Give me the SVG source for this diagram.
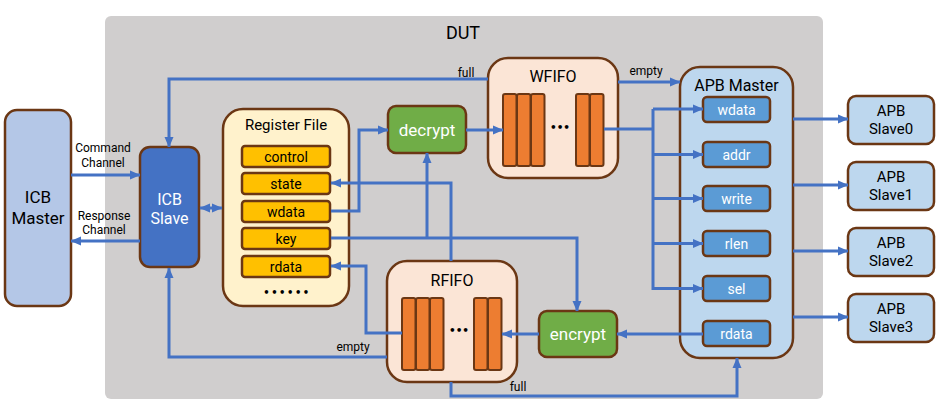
<svg xmlns="http://www.w3.org/2000/svg" width="939" height="405" viewBox="0 0 939 405">
<style>
text{font-family:Roboto,"Noto Sans","DejaVu Sans",sans-serif;text-anchor:middle;dominant-baseline:central;fill:#000}
.dots{font-family:"DejaVu Sans",sans-serif;font-weight:bold}
.wt{fill:#fff}
.bx{stroke:#6b3714;stroke-width:2.5}
.ln{fill:none;stroke:#4472c4;stroke-width:3}
.arr{marker-end:url(#ah)}
.cell{fill:#ed7d31;stroke:#6b3714;stroke-width:2}
.reg{fill:#ffc000;stroke:#6b3714;stroke-width:2.5}
.sub{fill:#5b9bd5;stroke:#6b3714;stroke-width:2.5}
.slv{fill:#bdd7ee;stroke:#6b3714;stroke-width:2.5}
</style>
<defs>
<marker id="ah" markerUnits="userSpaceOnUse" markerWidth="11" markerHeight="10" refX="10" refY="5" orient="auto-start-reverse" viewBox="0 0 11 10">
<path d="M0,0.5 L10.5,5 L0,9.5 z" fill="#4472c4"/>
</marker>
</defs>
<rect width="939" height="405" fill="#fff"/>
<g id="dut">
<rect x="105" y="16" width="718" height="383" rx="6" fill="#d0cece"/>
<text x="463" y="32" font-size="18">DUT</text>
</g>
<g id="icb-master">
<rect class="bx" x="5" y="110" width="66" height="196" rx="12" fill="#b4c7e7"/>
<text x="38" y="197" font-size="17">ICB</text>
<text x="38" y="218" font-size="17">Master</text>
</g>
<g id="icb-slave">
<rect class="bx" x="140" y="147" width="59" height="120" rx="10" fill="#4472c4"/>
<text class="wt" x="169.5" y="199" font-size="16">ICB</text>
<text class="wt" x="169.5" y="218.5" font-size="16">Slave</text>
</g>
<g id="register-file">
<rect class="bx" x="223" y="109" width="126" height="197" rx="20" fill="#fff2cc"/>
<text x="286" y="125" font-size="15">Register File</text>
<rect class="reg" x="242" y="146" width="88" height="21" rx="3"/>
<text x="286" y="156.5" font-size="14">control</text>
<rect class="reg" x="242" y="173" width="88" height="21" rx="3"/>
<text x="286" y="183.5" font-size="14">state</text>
<rect class="reg" x="242" y="201" width="88" height="21" rx="3"/>
<text x="286" y="211.5" font-size="14">wdata</text>
<rect class="reg" x="242" y="228" width="88" height="21" rx="3"/>
<text x="286" y="238.5" font-size="14">key</text>
<rect class="reg" x="242" y="256" width="88" height="21" rx="3"/>
<text x="286" y="266.5" font-size="14">rdata</text>
<text class="dots" x="287" y="292" font-size="10" letter-spacing="1.5">••••••</text>
</g>
<g id="decrypt">
<rect class="bx" x="388" y="106" width="78" height="47" rx="8" fill="#70ad47"/>
<text class="wt" x="427" y="129.5" font-size="17">decrypt</text>
</g>
<g id="wfifo">
<rect class="bx" x="488" y="58" width="130" height="120" rx="20" fill="#fbe5d6"/>
<text x="553" y="76" font-size="16">WFIFO</text>
<rect class="cell" x="503" y="94" width="13.5" height="72" rx="2"/>
<rect class="cell" x="517" y="94" width="13.5" height="72" rx="2"/>
<rect class="cell" x="531" y="94" width="13.5" height="72" rx="2"/>
<rect class="cell" x="576" y="94" width="13.5" height="72" rx="2"/>
<rect class="cell" x="590" y="94" width="13.5" height="72" rx="2"/>
<text class="dots" x="560" y="127" font-size="10.5">•••</text>
</g>
<g id="rfifo">
<rect class="bx" x="387" y="261" width="130" height="121" rx="20" fill="#fbe5d6"/>
<text x="452" y="280" font-size="16">RFIFO</text>
<rect class="cell" x="402" y="298" width="13.5" height="72" rx="2"/>
<rect class="cell" x="416" y="298" width="13.5" height="72" rx="2"/>
<rect class="cell" x="430" y="298" width="13.5" height="72" rx="2"/>
<rect class="cell" x="474" y="298" width="13.5" height="72" rx="2"/>
<rect class="cell" x="488" y="298" width="13.5" height="72" rx="2"/>
<text class="dots" x="459" y="330" font-size="10.5">•••</text>
</g>
<g id="encrypt">
<rect class="bx" x="539" y="311" width="78" height="46" rx="8" fill="#70ad47"/>
<text class="wt" x="578" y="334" font-size="17">encrypt</text>
</g>
<g id="apb-master">
<rect class="bx" x="680" y="67" width="113" height="291" rx="20" fill="#bdd7ee"/>
<text x="736.5" y="85" font-size="16">APB Master</text>
<rect class="sub" x="703" y="97" width="67" height="25" rx="4"/>
<text class="wt" x="736.5" y="109.5" font-size="14">wdata</text>
<rect class="sub" x="703" y="142" width="67" height="25" rx="4"/>
<text class="wt" x="736.5" y="154.5" font-size="14">addr</text>
<rect class="sub" x="703" y="186" width="67" height="25" rx="4"/>
<text class="wt" x="736.5" y="198.5" font-size="14">write</text>
<rect class="sub" x="703" y="231" width="67" height="25" rx="4"/>
<text class="wt" x="736.5" y="243.5" font-size="14">rlen</text>
<rect class="sub" x="703" y="276" width="67" height="25" rx="4"/>
<text class="wt" x="736.5" y="288.5" font-size="14">sel</text>
<rect class="sub" x="703" y="321" width="67" height="25" rx="4"/>
<text class="wt" x="736.5" y="333.5" font-size="14">rdata</text>
</g>
<g id="apb-slave0">
<rect class="slv" x="848" y="96" width="86" height="48" rx="8"/>
<text x="891" y="111" font-size="15">APB</text>
<text x="891" y="129" font-size="15">Slave0</text>
</g>
<g id="apb-slave1">
<rect class="slv" x="848" y="162" width="86" height="48" rx="8"/>
<text x="891" y="177" font-size="15">APB</text>
<text x="891" y="195" font-size="15">Slave1</text>
</g>
<g id="apb-slave2">
<rect class="slv" x="848" y="228" width="86" height="48" rx="8"/>
<text x="891" y="243" font-size="15">APB</text>
<text x="891" y="261" font-size="15">Slave2</text>
</g>
<g id="apb-slave3">
<rect class="slv" x="848" y="294" width="86" height="48" rx="8"/>
<text x="891" y="309" font-size="15">APB</text>
<text x="891" y="327" font-size="15">Slave3</text>
</g>
<g id="connectors">
<path class="ln arr" d="M71,175 H140"/>
<path class="ln arr" d="M140,241 H71"/>
<path class="ln arr" d="M488,79 H169 V147"/>
<path class="ln arr" d="M387,357 H169 V268"/>
<path class="ln arr" d="M200,208 H222" style="marker-start:url(#ah)"/>
<path class="ln arr" d="M331,211 H359 V130 H388"/>
<path class="ln arr" d="M331,238 H577 V311"/>
<path class="ln arr" d="M427,238 V153"/>
<path class="ln arr" d="M451,261 V183 H331"/>
<path class="ln arr" d="M402,333 H366 V266 H331"/>
<path class="ln arr" d="M466,130 H503"/>
<path class="ln arr" d="M618,82 H680"/>
<path class="ln" d="M604,129 H653"/>
<path class="ln arr" d="M653,109 H703"/>
<path class="ln arr" d="M653,154.5 H703"/>
<path class="ln arr" d="M653,198.5 H703"/>
<path class="ln arr" d="M653,243.5 H703"/>
<path class="ln arr" d="M653,109 V288.5 H703"/>
<path class="ln arr" d="M703,334 H617"/>
<path class="ln arr" d="M539,334 H502"/>
<path class="ln arr" d="M451,382 V396 H737 V358"/>
<path class="ln arr" d="M793,119 H848"/>
<path class="ln arr" d="M793,185 H848"/>
<path class="ln arr" d="M793,251 H848"/>
<path class="ln arr" d="M793,317 H848"/>
<text x="103" y="148" font-size="12">Command</text>
<text x="103" y="163" font-size="12">Channel</text>
<text x="104" y="215.5" font-size="12">Response</text>
<text x="104" y="229.5" font-size="12">Channel</text>
<text x="466" y="73" font-size="12">full</text>
<text x="646" y="71" font-size="12">empty</text>
<text x="353" y="347" font-size="12">empty</text>
<text x="518" y="387" font-size="12">full</text>
</g>
</svg>
